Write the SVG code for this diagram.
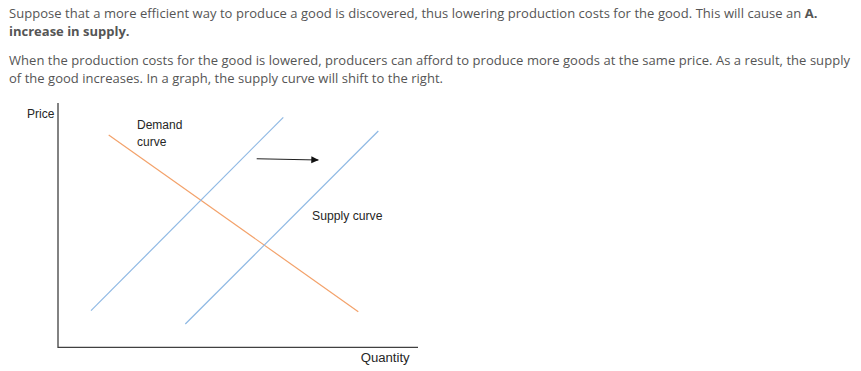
<svg xmlns="http://www.w3.org/2000/svg" width="861" height="371" viewBox="0 0 861 371">
<style>
.p{font-family:"Open Sans","Liberation Sans",sans-serif;font-size:13px;fill:#555}
.b{font-weight:bold}
.l{font-family:"Liberation Sans",Arial,sans-serif;font-size:12px;fill:#262626}
.ax{stroke:#404040;stroke-width:1.3;fill:none}
.sup{stroke:#8fb9e4;stroke-width:1.2;fill:none}
.dem{stroke:#f3a26b;stroke-width:1.2;fill:none}
</style>
<defs>
<marker id="ah" markerWidth="8" markerHeight="8" refX="7" refY="4" orient="auto" markerUnits="userSpaceOnUse">
<path d="M0,0.5 L7.5,4 L0,7.5 z" fill="#111"/>
</marker>
</defs>
<rect width="861" height="371" fill="#fff"/>
<g id="text">
<text class="p" x="9" y="17.5" textLength="808.5" lengthAdjust="spacing">Suppose that a more efficient way to produce a good is discovered, thus lowering production costs for the good. This will cause an <tspan class="b">A.</tspan></text>
<text class="p b" x="9" y="36">increase in supply.</text>
<text class="p" x="9" y="64.5" textLength="841" lengthAdjust="spacing">When the production costs for the good is lowered, producers can afford to produce more goods at the same price. As a result, the supply</text>
<text class="p" x="9" y="83" textLength="434" lengthAdjust="spacing">of the good increases. In a graph, the supply curve will shift to the right.</text>
</g>
<g id="axes">
<path class="ax" d="M58,103 V347.3 H418"/>
<text class="l" x="27" y="118">Price</text>
<text class="l" x="360.7" y="362" textLength="49" lengthAdjust="spacingAndGlyphs">Quantity</text>
</g>
<g id="demand">
<text class="l" x="137" y="129">Demand</text>
<text class="l" x="137" y="146">curve</text>
</g>
<g id="supply">
<text class="l" x="312" y="220" textLength="70.5" lengthAdjust="spacingAndGlyphs">Supply curve</text>
</g>
<g id="connectors">
<line class="dem" x1="108.7" y1="135" x2="358.3" y2="311.7"/>
<line class="sup" x1="91" y1="310.7" x2="283.3" y2="117.3"/>
<line class="sup" x1="185.3" y1="324" x2="378.3" y2="131"/>
<line x1="256.7" y1="158.7" x2="318.3" y2="160" stroke="#222" stroke-width="1.1" marker-end="url(#ah)"/>
</g>
</svg>
